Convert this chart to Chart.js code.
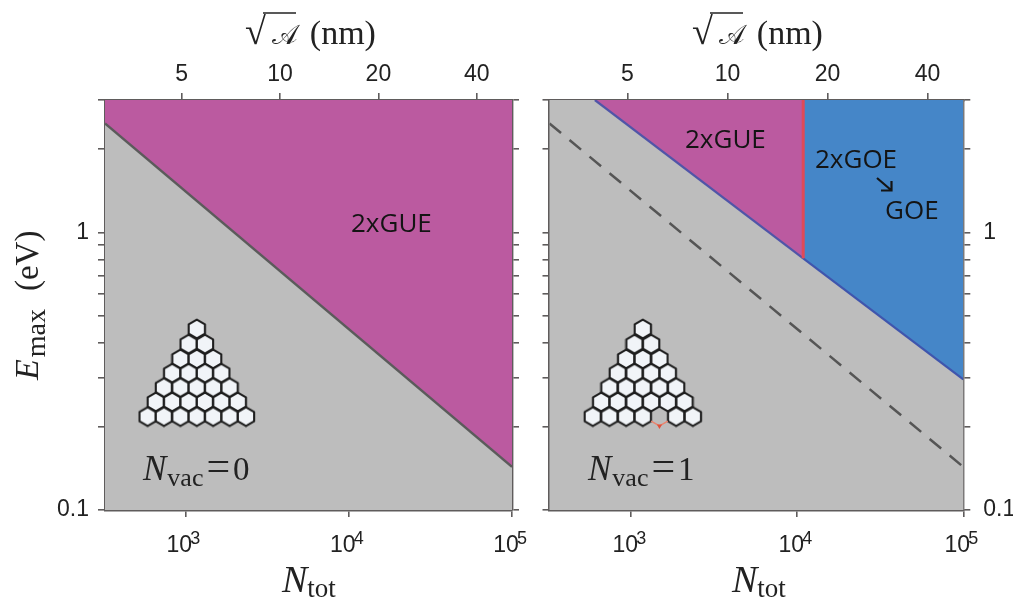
<!DOCTYPE html>
<html>
<head>
<meta charset="utf-8">
<style>
  html, body { margin: 0; padding: 0; background: #fff; }
  #page { position: relative; width: 1013px; height: 601px; overflow: hidden; }
  .panel { position: absolute; top: 0; height: 601px; }
  #leftBox { left: 0; width: 545px; }
  #rightBox { left: 535px; width: 478px; }
</style>
<script src="https://cdn.jsdelivr.net/npm/chart.js@4"></script>
</head>
<body>
<div id="page">
  <div class="panel" id="leftBox"><canvas id="leftChart"></canvas></div>
  <div class="panel" id="rightBox"><canvas id="rightChart"></canvas></div>
</div>
<script>
// axis ticks
const nTotTicks = [1000, 10000, 100000];
const nTotExponents = ['3', '4', '5'];
const sizeTicksN = [950, 3800, 15200, 60800];
const sizeTickLabels = ['5', '10', '20', '40'];
const energyTicks = [0.1, 0.2, 0.3, 0.4, 0.5, 0.6, 0.7, 0.8, 0.9, 1, 2, 3];
const energyLabels = { 0.1: '0.1', 1: '1' };
const nTotMin = 322, nTotMax = 100000;
const energyMin = 0.1, energyMax = 3;

// boundary lines
const boundaryN = [322, 100000];
const boundaryE = [2.47, 0.143];
const gueN = [604, 10860];
const gueE = [3, 0.807];
const goeN = [10860, 100000];
const goeE = [0.807, 0.2955];
const splitN = [10860, 10860];
const splitE = [0.807, 3];

// flake lattice (centres of the hexagons, one E value per row, top to bottom)
const rowE = [0.449, 0.396, 0.350, 0.311, 0.276, 0.245, 0.217];
const rowN = [
  [1174],
  [1046, 1318],
  [932, 1174, 1480],
  [830, 1046, 1318, 1661],
  [739, 932, 1174, 1480, 1865],
  [659, 830, 1046, 1318, 1661, 2094],
  [587, 739, 932, 1174, 1480, 1865, 2350]
];
// the missing hexagon of the right panel
const vacancyN = 1480, vacancyE = 0.217;
const vacancyEdgeN = [1318, 1480, 1661];
const vacancyEdgeE = [0.209, 0.2008, 0.209];

const GRAY = '#bdbdbd', MAGENTA = '#bb5aa0', BLUE = '#4586c8';
const FRAME = '#5f5c5c', TEXT = '#222222';

function points(xs, ys) {
  return xs.map((x, i) => ({ x: x, y: ys[i] }));
}

function hexImage() {
  const w = 20, h = 22;
  const c = document.createElement('canvas');
  c.width = w; c.height = h;
  const g = c.getContext('2d');
  const r = 9.4, s = r * Math.sqrt(3) / 2;
  g.beginPath();
  g.moveTo(w / 2, h / 2 - r);
  g.lineTo(w / 2 + s, h / 2 - r / 2);
  g.lineTo(w / 2 + s, h / 2 + r / 2);
  g.lineTo(w / 2, h / 2 + r);
  g.lineTo(w / 2 - s, h / 2 + r / 2);
  g.lineTo(w / 2 - s, h / 2 - r / 2);
  g.closePath();
  g.fillStyle = '#f1f4f8';
  g.fill();
  g.lineWidth = 2.1;
  g.lineJoin = 'round';
  g.strokeStyle = '#1e1e1e';
  g.stroke();
  return c;
}
const hex = hexImage();

function latticePoints(skipVacancy) {
  const out = [];
  rowN.forEach((row, i) => row.forEach(n => {
    if (skipVacancy && n === vacancyN && rowE[i] === vacancyE) return;
    out.push({ x: n, y: rowE[i] });
  }));
  return out;
}

function lineSet(data, color, width, extra) {
  return Object.assign({
    data: data, borderColor: color, borderWidth: width,
    showLine: true, pointRadius: 0, fill: false, tension: 0
  }, extra || {});
}

// text made of several runs, e.g. big letter plus subscript
function drawRuns(ctx, x, y, runs) {
  let cx = x;
  runs.forEach(r => {
    ctx.font = r.font;
    ctx.fillText(r.text, cx, y + (r.dy || 0));
    cx += ctx.measureText(r.text).width + (r.gap || 0);
  });
  return cx;
}

const SERIF = '"Liberation Serif"';
function nTotTitle(ctx, x) {
  drawRuns(ctx, x, 592, [
    { text: 'N', font: 'italic 38px ' + SERIF, gap: 0 },
    { text: 'tot', font: '27px ' + SERIF, dy: 5 }
  ]);
}
function sizeTitle(ctx, x) {
  drawRuns(ctx, x, 44, [
    { text: '√', font: '38px ' + SERIF, gap: 6 },
    { text: '𝒜', font: '27px "DejaVu Serif", ' + SERIF, gap: 12 },
    { text: '(nm)', font: '34px ' + SERIF }
  ]);
  ctx.save();
  ctx.strokeStyle = TEXT; ctx.lineWidth = 1.4;
  ctx.beginPath(); ctx.moveTo(x + 18, 13); ctx.lineTo(x + 51, 13); ctx.stroke();
  ctx.restore();
}
function vacTitle(ctx, x, value) {
  drawRuns(ctx, x, 480, [
    { text: 'N', font: 'italic 35px ' + SERIF, gap: 1 },
    { text: 'vac', font: '26px ' + SERIF, dy: 6, gap: 3 },
    { text: '=', font: '42px ' + SERIF, gap: 3 },
    { text: value, font: '33px ' + SERIF }
  ]);
}

const panelBack = {
  id: 'panelBack',
  beforeDatasetsDraw(chart) {
    const a = chart.chartArea, ctx = chart.ctx;
    ctx.save();
    ctx.fillStyle = GRAY;
    ctx.fillRect(a.left, a.top, a.right - a.left, a.bottom - a.top);
    ctx.restore();
  }
};

// raised exponents of the 10^n tick labels, placed with the axis scale
const tickExponents = {
  id: 'tickExponents',
  afterDraw(chart) {
    const ctx = chart.ctx, x = chart.scales.x;
    ctx.save();
    ctx.fillStyle = TEXT;
    ctx.font = '18px "Liberation Sans"';
    ctx.textBaseline = 'alphabetic';
    nTotTicks.forEach((v, i) => {
      ctx.fillText(nTotExponents[i], x.getPixelForValue(v) + 5, 544);
    });
    ctx.restore();
  }
};

const leftText = {
  id: 'leftText',
  afterDraw(chart) {
    const ctx = chart.ctx;
    ctx.save();
    ctx.fillStyle = TEXT;
    ctx.textBaseline = 'alphabetic';
    sizeTitle(ctx, 245);
    nTotTitle(ctx, 282);
    vacTitle(ctx, 143, '0');
    // y title
    ctx.save();
    ctx.translate(38, 380);
    ctx.rotate(-Math.PI / 2);
    drawRuns(ctx, 0, 0, [
      { text: 'E', font: 'italic 34px ' + SERIF, gap: 2 },
      { text: 'max', font: '28px ' + SERIF, dy: 7, gap: 18 },
      { text: '(eV)', font: '33px ' + SERIF }
    ]);
    ctx.restore();
    ctx.fillStyle = '#141414';
    ctx.font = '500 26px "Open Sans"';
    ctx.fillText('2xGUE', 351, 232);
    ctx.restore();
  }
};

const rightText = {
  id: 'rightText',
  afterDraw(chart) {
    const ctx = chart.ctx;
    ctx.save();
    ctx.translate(-535, 0); // page coordinates
    ctx.fillStyle = TEXT;
    ctx.textBaseline = 'alphabetic';
    sizeTitle(ctx, 692);
    nTotTitle(ctx, 732);
    vacTitle(ctx, 588, '1');
    ctx.fillStyle = '#141414';
    ctx.font = '500 26px "Open Sans"';
    ctx.fillText('2xGUE', 685, 148);
    ctx.fillText('2xGOE', 815, 168);
    ctx.fillText('GOE', 885, 219);
    // small arrow between the two regimes
    ctx.strokeStyle = '#141414';
    ctx.lineWidth = 2.2;
    ctx.beginPath();
    ctx.moveTo(877, 178); ctx.lineTo(891, 190);
    ctx.moveTo(881, 190.5); ctx.lineTo(891.5, 190.5); ctx.lineTo(891.5, 181);
    ctx.stroke();
    ctx.restore();
  }
};

function fixSize(prop, size) {
  return function (scale) { scale[prop] = size; };
}

function axisBase(extra) {
  return Object.assign({
    type: 'logarithmic',
    border: { color: FRAME, width: 2.4 },
    grid: { drawOnChartArea: false, color: FRAME, lineWidth: 1.6, tickLength: 7 }
  }, extra);
}

function buildScales(sizes, yLeftLabels, yRightLabels) {
  const tickFont = { family: '"Liberation Sans"', size: 23 };
  return {
    x: axisBase({
      position: 'bottom', min: nTotMin, max: nTotMax,
      afterBuildTicks(s) { s.ticks = nTotTicks.map(v => ({ value: v })); },
      afterFit: fixSize('height', sizes.bottom),
      ticks: { autoSkip: false, maxRotation: 0, color: TEXT, font: tickFont, padding: 15, labelOffset: -6,
        callback: () => '10' }
    }),
    xTop: axisBase({
      position: 'top', min: nTotMin, max: nTotMax,
      afterBuildTicks(s) { s.ticks = sizeTicksN.map(v => ({ value: v })); },
      afterFit: fixSize('height', sizes.top),
      ticks: { autoSkip: false, maxRotation: 0, color: TEXT, font: tickFont, padding: 5,
        callback: (v, i) => sizeTickLabels[i] }
    }),
    y: axisBase({
      position: 'left', min: energyMin, max: energyMax,
      afterBuildTicks(s) { s.ticks = energyTicks.map(v => ({ value: v })); },
      afterFit: fixSize('width', sizes.left),
      ticks: { autoSkip: false, color: TEXT, font: tickFont, padding: 9,
        callback: v => yLeftLabels ? (energyLabels[v] || '') : '' }
    }),
    yRight: axisBase({
      position: 'right', min: energyMin, max: energyMax,
      afterBuildTicks(s) { s.ticks = energyTicks.map(v => ({ value: v })); },
      afterFit: fixSize('width', sizes.right),
      ticks: { autoSkip: false, color: TEXT, font: tickFont, padding: 13,
        callback: v => yRightLabels ? (energyLabels[v] || '') : '' }
    })
  };
}

const commonOptions = {
  responsive: false,
  animation: false,
  layout: { padding: 0 },
  plugins: { legend: { display: false }, tooltip: { enabled: false } }
};

function sizeCanvas(id, w, h) {
  const c = document.getElementById(id);
  c.width = w; c.height = h;
  c.style.width = w + 'px'; c.style.height = h + 'px';
  return c;
}

new Chart(sizeCanvas('leftChart', 545, 601), {
  type: 'scatter',
  data: { datasets: [
    { data: latticePoints(false), pointStyle: hex, pointRadius: 10, showLine: false },
    lineSet(points(boundaryN, boundaryE), '#5b5b5b', 2.4, { fill: { target: 'end', above: MAGENTA, below: MAGENTA } })
  ] },
  options: Object.assign({}, commonOptions, {
    scales: buildScales({ left: 105, right: 33, top: 100, bottom: 91 }, true, false)
  }),
  plugins: [panelBack, tickExponents, leftText]
});

new Chart(sizeCanvas('rightChart', 478, 601), {
  type: 'scatter',
  data: { datasets: [
    { data: [{ x: vacancyN, y: 0.2008 }], pointStyle: 'triangle', rotation: 180, pointRadius: 3, backgroundColor: '#e0503a', borderWidth: 0, showLine: false },
    lineSet(points(vacancyEdgeN, vacancyEdgeE), '#e9846f', 1.5),
    { data: latticePoints(true), pointStyle: hex, pointRadius: 10, showLine: false },
    lineSet(points(splitN, splitE), '#e04a58', 3),
    lineSet(points(gueN, gueE), '#5055a8', 2.2, { fill: { target: 'end', above: MAGENTA, below: MAGENTA } }),
    lineSet(points(goeN, goeE), '#3f55ad', 2.2, { fill: { target: 'end', above: BLUE, below: BLUE } }),
    lineSet(points(boundaryN, boundaryE), '#555555', 2.5, { borderDash: [15, 11] })
  ] },
  options: Object.assign({}, commonOptions, {
    scales: buildScales({ left: 14.5, right: 49.7, top: 100, bottom: 91 }, false, true)
  }),
  plugins: [panelBack, tickExponents, rightText]
});
</script>
</body>
</html>
